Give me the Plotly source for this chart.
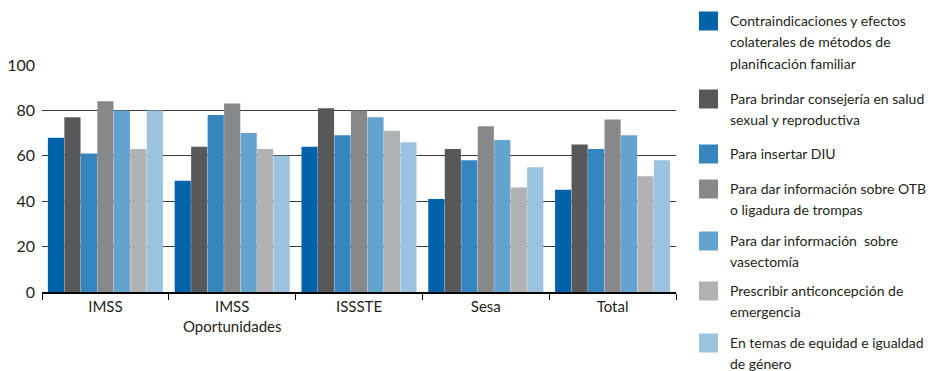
import plotly.graph_objects as go

categories = ["IMSS", "IMSS<br>Oportunidades", "ISSSTE", "Sesa", "Total"]

series_names = [
    "Contraindicaciones y efectos<br>colaterales de métodos de<br>planificación familiar",
    "Para brindar consejería en salud<br>sexual y reproductiva",
    "Para insertar DIU",
    "Para dar información sobre OTB<br>o ligadura de trompas",
    "Para dar información  sobre<br>vasectomía",
    "Prescribir anticoncepción de<br>emergencia",
    "En temas de equidad e igualdad<br>de género",
]

contraindicaciones = [68, 49, 64, 41, 45]
consejeria = [77, 64, 81, 63, 65]
insertar_diu = [61, 78, 69, 58, 63]
otb = [84, 83, 80, 73, 76]
vasectomia = [80, 70, 77, 67, 69]
anticoncepcion = [63, 63, 71, 46, 51]
equidad = [80, 60, 66, 55, 58]

series_values = [contraindicaciones, consejeria, insertar_diu, otb,
                 vasectomia, anticoncepcion, equidad]

colors = ["#0062A8", "#58585A", "#3586BF", "#87888A", "#63A3D0", "#B1B2B4", "#9BC3DF"]

y_ticks = [0, 20, 40, 60, 80, 100]

FONT = "Lato, 'Open Sans', sans-serif"
TXT = "#231f20"

W, H = 933, 371
L, R, T, B = 42, 257, 65, 79
PW, PH = W - L - R, H - T - B


def px_x(px):
    return (px - L) / PW


def px_y(py):
    return (H - B - py) / PH


fig = go.Figure()
for i, (name, vals) in enumerate(zip(series_names, series_values)):
    fig.add_trace(go.Bar(
        x=categories, y=vals, name=name.replace("<br>", " "),
        marker=dict(color=colors[i], line=dict(width=0)),
        showlegend=False,
    ))

# custom legend (swatch + wrapped label lines)
legend_first_line_y = [20, 98, 153, 188, 240, 290, 342]
line_gap = 21.7
shapes = []
annotations = []
for i, name in enumerate(series_names):
    cy = legend_first_line_y[i]
    shapes.append(dict(
        type="rect", xref="paper", yref="paper",
        x0=px_x(699), x1=px_x(718), y0=px_y(cy + 10.5), y1=px_y(cy - 8.5),
        fillcolor=colors[i], line=dict(width=0), layer="above",
    ))
    for k, line in enumerate(name.split("<br>")):
        annotations.append(dict(
            xref="paper", yref="paper", x=px_x(728), y=px_y(cy + k * line_gap),
            xanchor="left", yanchor="middle", text=line, showarrow=False,
            font=dict(family=FONT, size=14, color=TXT),
        ))

fig.update_layout(
    width=W, height=H,
    margin=dict(l=L, r=R, t=T, b=B, autoexpand=False),
    paper_bgcolor="white", plot_bgcolor="white",
    barmode="group", bargap=0.09, bargroupgap=0.02,
    font=dict(family=FONT, size=15, color=TXT),
    showlegend=False,
    shapes=shapes,
    annotations=annotations,
    xaxis=dict(
        showline=True, linecolor="black", linewidth=2,
        ticks="outside", tickson="boundaries", ticklen=6, tickcolor="black",
        tickwidth=1, showgrid=False,
        tickfont=dict(family=FONT, size=15, color=TXT),
    ),
    yaxis=dict(
        range=[0, 100], tickvals=y_ticks,
        showgrid=True, gridcolor="#3a3a3a", gridwidth=1,
        zeroline=False, showline=False, ticks="",
        tickfont=dict(family=FONT, size=16, color=TXT),
        ticklabelstandoff=6,
    ),
)

fig.write_html(
    "out.html",
    config={"displayModeBar": False},
    post_script="document.body.style.margin='0';document.body.style.overflow='hidden';",
)
